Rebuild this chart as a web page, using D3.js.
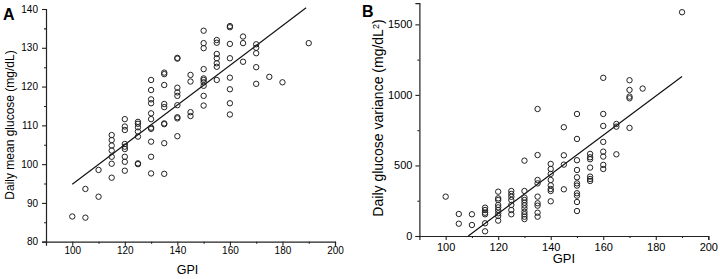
<!DOCTYPE html>
<html>
<head>
<meta charset="utf-8">
<script src="https://cdn.jsdelivr.net/npm/d3@7"></script>
<style>
  body { margin: 0; background: #fff; }
  text { font-family: "Liberation Sans", Arial, sans-serif; fill: #000; }
</style>
</head>
<body>
<script>
// GPI levels (x) shared by both panels
var gpiLevels = [100, 105, 110, 115, 120, 125, 130, 135, 140, 145, 150, 155, 160, 165, 170, 175, 180, 190];

// Panel A: daily mean glucose (mg/dL), one list per GPI level
var meanGlucose = [
  [86.5],
  [93.6, 86.2],
  [98.5, 91.6],
  [107.5, 106.2, 104.8, 103.5, 101.9, 100.1, 96.5],
  [111.6, 109.7, 108.8, 105.2, 104.5, 103.9, 101.9, 100.6, 98.3],
  [110.9, 110.4, 109.5, 108.4, 107.1, 100.2, 100.0],
  [121.7, 119.1, 116.7, 115.7, 113.1, 111.6, 109.4, 109.1, 105.8, 101.9, 97.6],
  [123.6, 123.2, 120.4, 115.5, 114.7, 110.5, 110.3, 105.4, 97.5],
  [127.4, 127.2, 119.7, 118.5, 117.6, 115.2, 112.1, 111.8, 107.2],
  [123.0, 121.3, 113.4, 112.4],
  [134.4, 131.2, 129.9, 124.5, 122.1, 121.7, 121.1, 120.2, 117.6, 115.1],
  [132.0, 131.3, 128.4, 127.3, 126.0, 125.1, 121.7],
  [135.6, 135.3, 131.0, 127.3, 122.3, 119.3, 115.7, 112.8],
  [132.9, 131.2, 126.4],
  [130.9, 130.0, 128.6, 125.0, 120.7],
  [122.5],
  [121.1],
  [131.2]
];

// Panel B: daily glucose variance (mg/dL^2), one list per GPI level
var glucoseVariance = [
  [279],
  [156, 87],
  [154, 78],
  [201, 184, 165, 154, 90, 33],
  [314, 267, 255, 220, 203, 184, 161, 142, 109],
  [319, 298, 278, 255, 220, 184, 154],
  [534, 319, 272, 255, 236, 217, 196, 172, 154, 137, 120],
  [900, 574, 397, 373, 279, 232, 215, 165, 137],
  [511, 475, 440, 397, 359, 333, 319, 246],
  [771, 572, 506, 331],
  [865, 688, 537, 468, 416, 373, 357, 303, 286, 241, 177],
  [582, 558, 544, 485, 421, 404, 390],
  [1121, 865, 780, 667, 598, 563, 504, 475],
  [794, 775, 579],
  [1104, 1035, 988, 976, 766],
  [1045],
  [],
  [1586]
];

// regression line end points [gpi, value]
var fitA = [[100, 94.8], [189, 140.3]];
var fitB = [[108.6, 0], [190, 1130]];

var xTicks = [100, 120, 140, 160, 180, 200];
var xMinor = [110, 130, 150, 170, 190];
var yTicksA = [80, 90, 100, 110, 120, 130, 140];
var yMinorA = [85, 95, 105, 115, 125, 135];
var yTicksB = [0, 500, 1000, 1500];
var yMinorB = [250, 750, 1250];

var svg = d3.select("body").append("svg")
  .attr("width", 720)
  .attr("height", 279);

function flatten(levels, values) {
  var pts = [];
  levels.forEach(function(g, i) {
    values[i].forEach(function(v) { pts.push([g, v]); });
  });
  return pts;
}

function drawPanel(p) {
  var x = d3.scaleLinear().domain([90, 200]).range([p.left, p.right]);
  var y = d3.scaleLinear().domain(p.yDomain).range([p.bottom, p.top]);
  var g = svg.append("g");

  // axes
  g.append("g")
    .attr("transform", "translate(0," + p.bottom + ")")
    .call(d3.axisBottom(x).tickValues(xTicks).tickSize(4).tickPadding(p.xPad).tickFormat(d3.format("d")))
    .call(styleAxis, p.xFont);
  g.append("g")
    .attr("transform", "translate(0," + p.bottom + ")")
    .call(d3.axisBottom(x).tickValues(xMinor).tickSize(2).tickFormat(""))
    .call(styleAxis, p.xFont)
    .select(".domain").remove();
  g.append("g")
    .attr("transform", "translate(" + p.left + ",0)")
    .call(d3.axisLeft(y).tickValues(p.yTicks).tickSize(4).tickPadding(p.yPad).tickFormat(d3.format("d")))
    .call(styleAxis, p.yFont);
  g.append("g")
    .attr("transform", "translate(" + p.left + ",0)")
    .call(d3.axisLeft(y).tickValues(p.yMinor).tickSize(2).tickFormat(""))
    .call(styleAxis, p.yFont)
    .select(".domain").remove();

  // regression line
  g.append("path")
    .datum(p.fit)
    .attr("d", d3.line().x(function(d) { return x(d[0]); }).y(function(d) { return y(d[1]); }))
    .attr("fill", "none")
    .attr("stroke", "#111")
    .attr("stroke-width", 1.2);

  // points
  g.selectAll("circle")
    .data(flatten(gpiLevels, p.values))
    .enter().append("circle")
    .attr("cx", function(d) { return x(d[0]); })
    .attr("cy", function(d) { return y(d[1]); })
    .attr("r", 2.7)
    .attr("fill", "none")
    .attr("stroke", "#222")
    .attr("stroke-width", 1);

  // titles
  g.append("text")
    .attr("x", (p.left + p.right) / 2 + p.xTitleShift)
    .attr("y", p.xTitleY)
    .attr("text-anchor", "middle")
    .style("font-size", p.titleFont + "px")
    .text("GPI");
  var yt = g.append("text")
    .attr("transform", "translate(" + p.yTitleX + "," + p.yTitleC + ") rotate(-90)")
    .attr("text-anchor", "middle")
    .style("font-size", p.yTitleFont + "px")
    .text(p.yTitle);
  if (p.sup) {
    yt.append("tspan").attr("dy", "-0.45em").style("font-size", "0.65em").text(p.sup);
    yt.append("tspan").attr("dy", "0.3em").text(")");
  }
  g.append("text")
    .attr("x", p.letterX)
    .attr("y", p.letterY)
    .style("font-size", "16px")
    .style("font-weight", "bold")
    .text(p.letter);
}

function styleAxis(sel, fs) {
  sel.select(".domain").attr("stroke", "#222").attr("stroke-width", 1.2);
  sel.selectAll(".tick line").attr("stroke", "#222").attr("stroke-width", 1.1);
  sel.selectAll(".tick text").style("font-size", fs + "px").style("font-family", "'Liberation Sans', Arial, sans-serif").attr("fill", "#000");
}

drawPanel({
  left: 46, right: 335, top: 9, bottom: 241.7,
  yDomain: [80, 140], yTicks: yTicksA, yMinor: yMinorA,
  values: meanGlucose, fit: fitA,
  xPad: 1, yPad: 4, xFont: 10, yFont: 10,
  xTitleY: 274, xTitleShift: -3, titleFont: 12.5,
  yTitleX: 14, yTitleC: 125, yTitleFont: 12,
  yTitle: "Daily mean glucose (mg/dL)",
  letter: "A", letterX: 3, letterY: 20
});

drawPanel({
  left: 419.4, right: 708.3, top: 3.2, bottom: 236,
  yDomain: [0, 1650], yTicks: yTicksB, yMinor: yMinorB,
  values: glucoseVariance, fit: fitB,
  xPad: 3, yPad: 3, xFont: 11, yFont: 11,
  xTitleY: 263, xTitleShift: 0, titleFont: 13,
  yTitleX: 383, yTitleC: 118, yTitleFont: 14,
  yTitle: "Daily glucose variance (mg/dL", sup: "2",
  letter: "B", letterX: 362, letterY: 17
});
</script>
</body>
</html>
